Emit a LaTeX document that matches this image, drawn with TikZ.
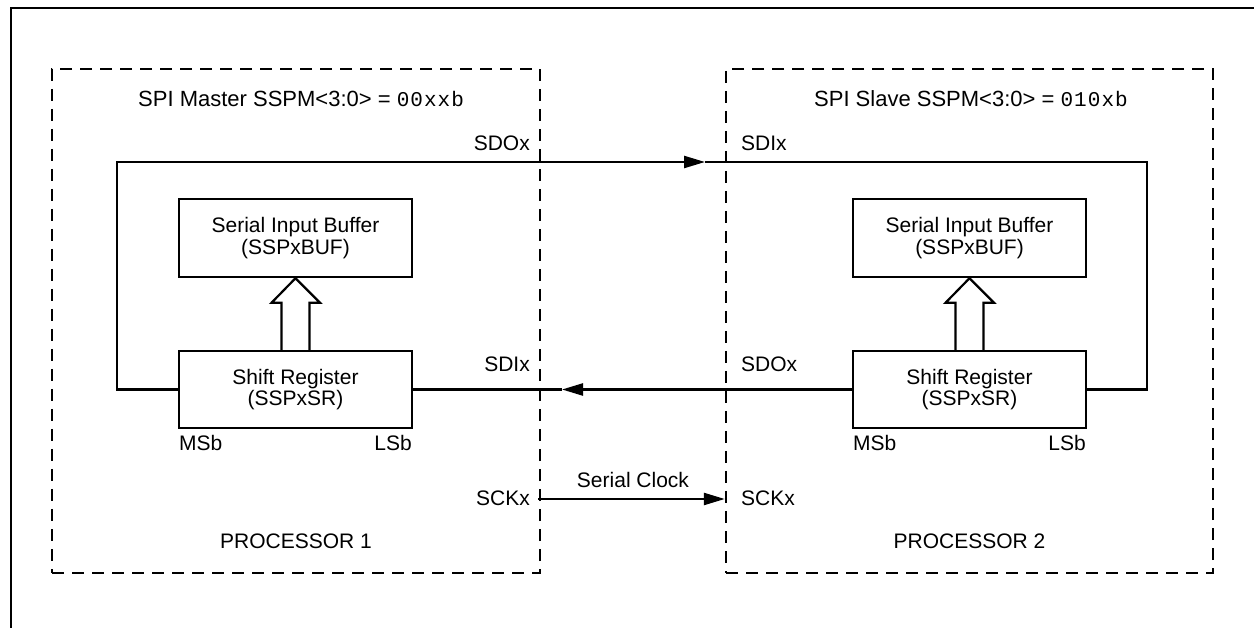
\documentclass[tikz,border=0pt]{standalone}
\usepackage{fontspec}
\setmainfont{Liberation Sans}
\newfontfamily\monof[LetterSpace=5]{Liberation Mono}
\usetikzlibrary{arrows.meta,calc}
\begin{document}
\begin{tikzpicture}[x=1pt,y=-1pt,
  lbl/.style={font=\fontsize{21}{25}\selectfont, inner sep=0pt},
  ttl/.style={font=\fontsize{22}{25}\selectfont, inner sep=0pt},
  regbox/.style={draw, line width=2.4pt, align=center, font=\fontsize{21}{21.5}\selectfont,
    minimum width=233pt, minimum height=78pt, inner sep=0pt},
  procbox/.style={draw, dash pattern=on 12pt off 8pt, line width=2.4pt, inner sep=0pt},
  wire/.style={line width=2.4pt},
  tipr/.style={-{Triangle[length=21pt,width=12pt]}}]
\useasboundingbox (0,0) rectangle (1254,628);
% outer frame
\draw[line width=2.8pt] (11,628) -- (11,8) -- (1254,8);
% processor boxes
\node[procbox, minimum width=488pt, minimum height=504pt] (p1) at (296,321) {};
\node[procbox, minimum width=487pt, minimum height=504pt] (p2) at (969.5,321) {};
% titles
\node[ttl, anchor=base west] (t1) at (138,107) {SPI Master SSPM<3:0> = {\monof\fontsize{21}{25}\selectfont 00xxb}};
\node[ttl, anchor=base east] (t2) at (1128,107) {SPI Slave SSPM<3:0> = {\monof\fontsize{21}{25}\selectfont 010xb}};
% registers
\node[regbox] (buf1) at (295.5,238) {Serial Input Buffer\\(SSPxBUF)};
\node[regbox, minimum height=77pt] (sr1) at (295.5,389.5) {Shift Register\\(SSPxSR)};
\node[regbox] (buf2) at (969.5,238) {Serial Input Buffer\\(SSPxBUF)};
\node[regbox, minimum height=77pt] (sr2) at (969.5,389.5) {Shift Register\\(SSPxSR)};
% hollow arrows
\draw[line width=2.2pt] ($(sr1.north)+(-14,0)$) -- ++(0,-47) -- ++(-10,0) -- (buf1.south)
  -- ($(sr1.north)+(24.5,-47)$) -- ++(-10.5,0) -- ++(0,47);
\draw[line width=2.2pt] ($(sr2.north)+(-14,0)$) -- ++(0,-47) -- ++(-10,0) -- (buf2.south)
  -- ($(sr2.north)+(24.5,-47)$) -- ++(-10.5,0) -- ++(0,47);
% labels
\node[lbl, anchor=base east] (sdo1) at (530,151) {SDOx};
\node[lbl, anchor=base west] (sdi2) at (741,151) {SDIx};
\node[lbl, anchor=base east] (sdi1) at (530,372) {SDIx};
\node[lbl, anchor=base west] (sdo2) at (741,372) {SDOx};
\node[lbl, anchor=base east] (sck1) at (530,505) {SCKx};
\node[lbl, anchor=base west] (sck2) at (741,505) {SCKx};
\node[lbl, anchor=base] (sclk) at (633,487) {Serial Clock};
\node[lbl, anchor=base west] (msb1) at (179,450) {MSb};
\node[lbl, anchor=base east] (lsb1) at (412,450) {LSb};
\node[lbl, anchor=base west] (msb2) at (853,450) {MSb};
\node[lbl, anchor=base east] (lsb2) at (1086,450) {LSb};
\node[lbl, anchor=base] (proc1) at (296,548) {PROCESSOR 1};
\node[lbl, anchor=base] (proc2) at (969.5,548) {PROCESSOR 2};
% wires
\coordinate (tipT) at (705,162);
\coordinate (tipB) at (562,389.5);
\coordinate (ckrow) at (0,499);
\draw[wire, tipr] (sr1.west) -- ++(-61,0) |- (tipT);
\draw[wire] (tipT) -| ($(sr2.east)+(60,0)$) -- (sr2.east);
\draw[wire, tipr] (sr2.west) -- (tipB);
\draw[wire] (tipB) -- (sr1.east);
\draw[wire, tipr] ($(p1.east |- ckrow)+(-3,0)$) -- (p2.west |- ckrow);
\end{tikzpicture}
\end{document}
